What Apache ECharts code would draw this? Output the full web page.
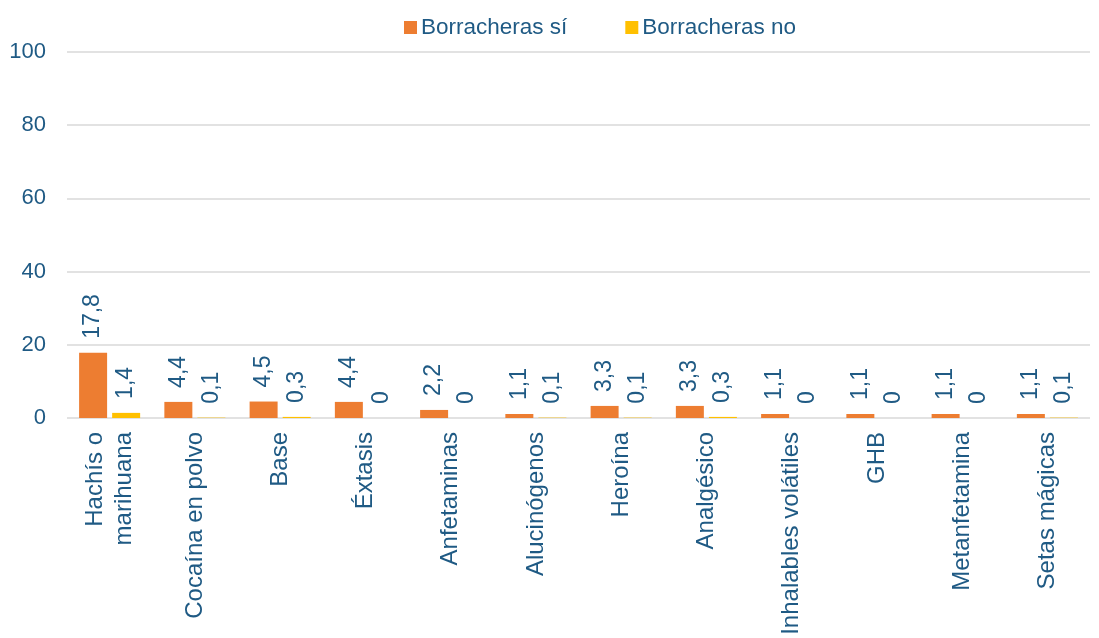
<!DOCTYPE html>
<html>
<head>
<meta charset="utf-8">
<script src="https://cdn.jsdelivr.net/npm/echarts@6/dist/echarts.min.js"></script>
<style>
  html, body { margin: 0; padding: 0; background: #fff; }
  #chart { width: 1099px; height: 638px; }
</style>
</head>
<body>
<div id="chart"></div>
<script>
var categorias = ['Hachís o\nmarihuana', 'Cocaína en polvo', 'Base', 'Éxtasis', 'Anfetaminas', 'Alucinógenos',
  'Heroína', 'Analgésico', 'Inhalables volátiles', 'GHB', 'Metanfetamina', 'Setas mágicas'];
var borracherasSi = [17.8, 4.4, 4.5, 4.4, 2.2, 1.1, 3.3, 3.3, 1.1, 1.1, 1.1, 1.1];
var borracherasNo = [1.4, 0.1, 0.3, 0, 0, 0.1, 0.1, 0.3, 0, 0, 0, 0.1];
var ticksY = [0, 20, 40, 60, 80, 100];

var azul = '#1f5a84';
var fuente = '"Liberation Sans", Arial, sans-serif';

var myChart = echarts.init(document.getElementById('chart'));

function etiqueta() {
  return {
    show: true,
    position: 'top',
    rotate: 90,
    align: 'left',
    verticalAlign: 'middle',
    distance: 14,
    color: azul,
    fontSize: 23,
    fontFamily: fuente,
    formatter: function (p) { return String(p.value).replace('.', ','); }
  };
}

var option = {
  animation: false,
  textStyle: { fontFamily: fuente },
  legend: {
    top: 11,
    left: 399,
    itemWidth: 13,
    itemHeight: 13,
    itemGap: 58,
    icon: 'rect',
    textStyle: { color: azul, fontSize: 22.5, fontFamily: fuente, padding: [0, 0, 0, -1] },
    data: ['Borracheras sí', 'Borracheras no']
  },
  grid: { left: 67, right: 9, top: 52, bottom: 220 },
  xAxis: {
    type: 'category',
    data: categorias,
    axisLine: { show: false },
    axisTick: { show: false },
    axisLabel: {
      interval: 0,
      rotate: 90,
      margin: 14,
      color: azul,
      fontSize: 24,
      lineHeight: 29,
      fontFamily: fuente
    }
  },
  yAxis: {
    type: 'value',
    min: 0,
    max: 100,
    interval: 20,
    axisLine: { show: false },
    axisTick: { show: false },
    axisLabel: {
      color: azul,
      fontSize: 22,
      margin: 21,
      fontFamily: fuente,
      formatter: function (v) { return ticksY.indexOf(v) >= 0 ? v : ''; }
    },
    splitLine: { lineStyle: { color: '#d9d9d9', width: 1.5 } }
  },
  series: [
    {
      name: 'Borracheras sí',
      type: 'bar',
      data: borracherasSi,
      itemStyle: { color: '#ed7d31' },
      barWidth: 28,
      barGap: '18%',
      label: etiqueta()
    },
    {
      name: 'Borracheras no',
      type: 'bar',
      data: borracherasNo,
      itemStyle: { color: '#ffc000' },
      barWidth: 28,
      label: etiqueta()
    }
  ]
};

myChart.setOption(option);
window.addEventListener('resize', function () {
  myChart.resize();
});
</script>
</body>
</html>
